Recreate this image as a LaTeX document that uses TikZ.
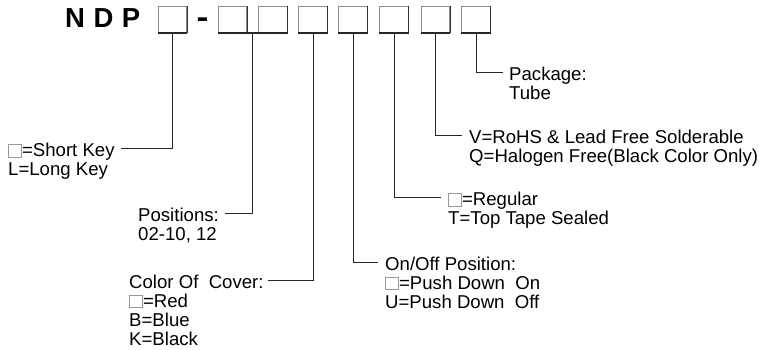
\documentclass[tikz,border=0pt]{standalone}
\usepackage{fontspec}
\setmainfont{Liberation Sans}
\usetikzlibrary{calc}
\newcommand{\blankbox}{{\setlength{\fboxsep}{0pt}\setlength{\fboxrule}{0.7pt}%
  \fcolorbox{black!40}{white}{\rule{0pt}{11.5pt}\hspace{12pt}}}\hspace{0.5pt}}

\begin{document}
\begin{tikzpicture}[x=1pt,y=-1pt,
  slot/.style={draw=black!45,line width=0.8pt,fill=white,
    minimum width=28.5pt,minimum height=27pt,inner sep=0pt},
  slotbase/.style={line width=2pt,black!85},
  code/.style={font=\fontsize{27.5}{27.5}\selectfont\bfseries,inner sep=0pt,anchor=base west},
  lbl/.style={font=\fontsize{18.6}{18.8}\selectfont,align=left,inner sep=0pt,anchor=north west},
  lead/.style={line width=0.9pt,black!85}
]
\useasboundingbox (0,0) rectangle (760,349);

% ---- part number ----
\node[code] (ndp) at (65,27) {\spaceskip=8.5pt N D P};
\node[code] (dash) at (196.5,27.5) {\scalebox{1.3}[1.1]{-}};
\foreach \i/\x in {1/172.5,2/232.5,3/273,4/313,5/353,6/394,7/435.5,8/476}{
  \node[slot] (b\i) at (\x,19.5) {};
  \draw[black!80,line width=0.8pt] (b\i.north east)--(b\i.south east);
  \draw[slotbase] (b\i.south west)--(b\i.south east);
}
\draw[slotbase] (b2.south east)--(b3.south west);
\coordinate (b23) at ($(b2.south east)!0.5!(b3.south west)$);

% ---- option texts (placed by top of first line) ----
\node[lbl] (key)  at (8,143)   {\blankbox=Short Key\\L=Long Key};
\node[lbl] (pos)  at (138,208) {Positions:\\02-10, 12};
\node[lbl] (cov)  at (129,275) {Color Of~ Cover:\\\blankbox=Red\\B=Blue\\K=Black};
\node[lbl] (onof) at (385,257) {On/Off Position:\\\blankbox=Push Down~ On\\U=Push Down~ Off};
\node[lbl] (seal) at (448,192) {\blankbox=Regular\\T=Top Tape Sealed};
\node[lbl] (rohs) at (469,130) {V=RoHS \& Lead Free Solderable\\Q=Halogen Free(Black Color Only)};
\node[lbl] (pkg)  at (509,67)  {Package:\\Tube};

% ---- leaders ----
\draw[lead] (b1.south) |- ([xshift=6pt,yshift=-5.5pt]key.north east);
\draw[lead] (b23) |- ([xshift=6pt,yshift=-5.5pt]pos.north east);
\draw[lead] (b4.south) |- ([xshift=4pt,yshift=-5.5pt]cov.north east);
\draw[lead] (b5.south) |- ([xshift=-7pt,yshift=-5.5pt]onof.north west);
\draw[lead] (b6.south) |- ([xshift=-7pt,yshift=-5.5pt]seal.north west);
\draw[lead] (b7.south) |- ([xshift=-7pt,yshift=-5.5pt]rohs.north west);
\draw[lead] (b8.south) |- ([xshift=-6pt,yshift=-5.5pt]pkg.north west);
\end{tikzpicture}
\end{document}
